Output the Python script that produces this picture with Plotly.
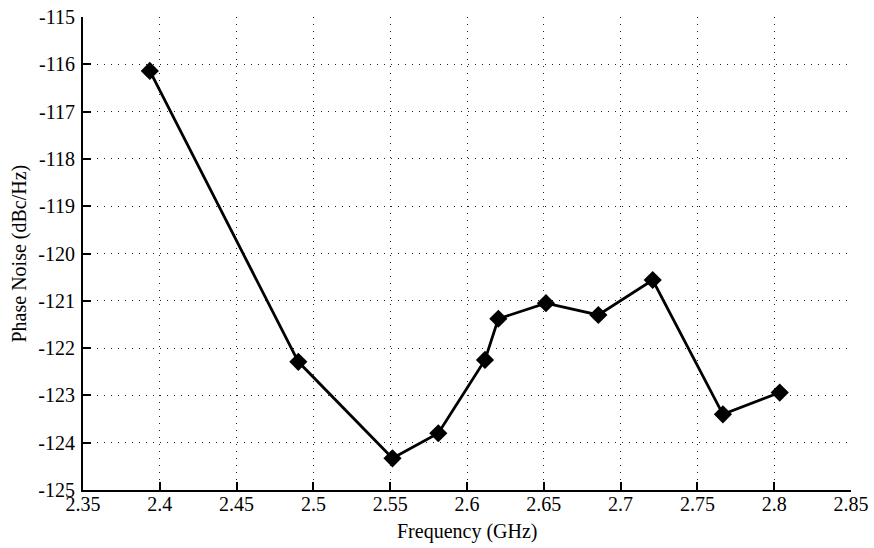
import plotly.graph_objects as go

freq_ghz = [2.3935, 2.4902, 2.5515, 2.5813, 2.6117, 2.6204, 2.6514, 2.6855, 2.7209, 2.7666, 2.8036]
phase_noise = [-116.14, -122.29, -124.33, -123.80, -122.25, -121.38, -121.05, -121.30, -120.56, -123.40, -122.94]

x_ticks = [2.35, 2.4, 2.45, 2.5, 2.55, 2.6, 2.65, 2.7, 2.75, 2.8, 2.85]
x_tick_labels = ["2.35", "2.4", "2.45", "2.5", "2.55", "2.6", "2.65", "2.7", "2.75", "2.8", "2.85"]
y_ticks = [-125, -124, -123, -122, -121, -120, -119, -118, -117, -116, -115]
y_tick_labels = ["-125", "-124", "-123", "-122", "-121", "-120", "-119", "-118", "-117", "-116", "-115"]
x_title = "Frequency (GHz)"
y_title = "Phase Noise (dBc/Hz)"

font = "Liberation Serif"
fsize = 20

fig = go.Figure()
fig.add_trace(go.Scatter(
    x=freq_ghz, y=phase_noise, mode="lines+markers",
    line=dict(color="black", width=2.8),
    marker=dict(symbol="diamond", size=14, color="black"),
    showlegend=False,
))

axis_common = dict(
    showgrid=True, gridcolor="#222222", griddash="1px,6px", gridwidth=1.2,
    showline=True, linecolor="black", linewidth=2,
    ticks="inside", ticklen=8, tickcolor="black", tickwidth=1.5,
    zeroline=False, mirror=False, automargin=False,
    tickfont=dict(family=font, size=fsize, color="black"),
)

fig.update_layout(
    width=874, height=548,
    margin=dict(l=83, r=23, t=17, b=58),
    paper_bgcolor="white", plot_bgcolor="white",
    font=dict(family=font, color="black", size=fsize),
    xaxis=dict(range=[2.35, 2.85], tickvals=x_ticks, ticktext=x_tick_labels,
               ticklabelstandoff=-5, **axis_common),
    yaxis=dict(range=[-125, -115], tickvals=y_ticks, ticktext=y_tick_labels,
               ticklabelstandoff=2, **axis_common),
    annotations=[
        dict(text=x_title, xref="paper", yref="paper", x=0.5, y=-41 / 473,
             xanchor="center", yanchor="middle", showarrow=False,
             font=dict(family=font, size=fsize, color="black")),
        dict(text=y_title, xref="paper", yref="paper", x=-64 / 768, y=0.5,
             xanchor="center", yanchor="middle", showarrow=False, textangle=-90,
             font=dict(family=font, size=fsize, color="black")),
    ],
)

fig.write_html("out.html")
